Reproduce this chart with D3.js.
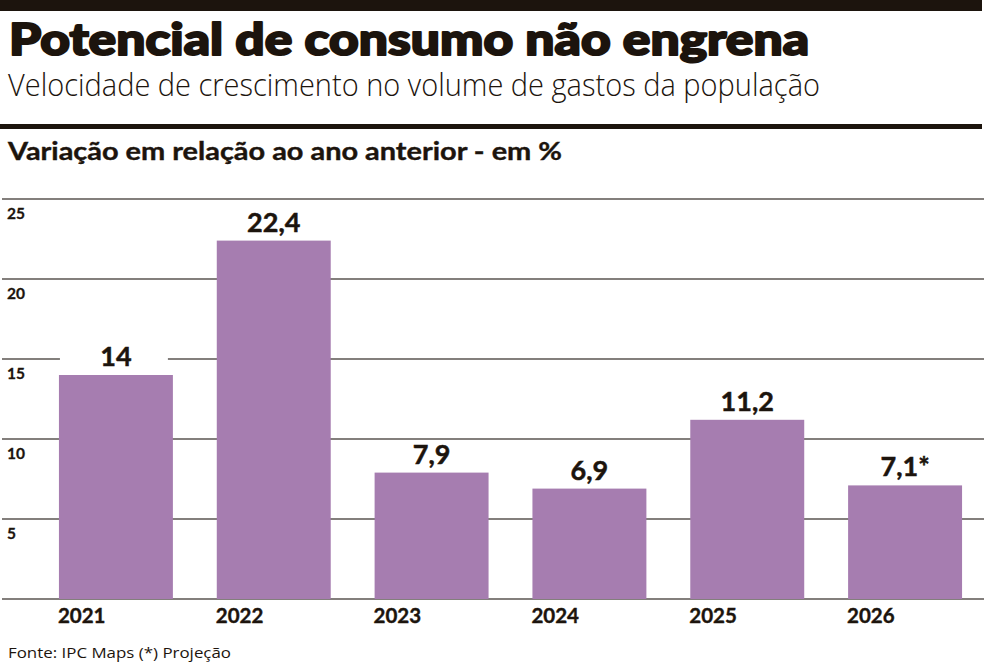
<!DOCTYPE html>
<html>
<head>
<meta charset="utf-8">
<script src="https://cdn.jsdelivr.net/npm/d3@7"></script>
<style>
  body { margin: 0; background: #fff; }
  svg { display: block; }
</style>
</head>
<body>
<div id="vis"></div>
<script>
// data
const years = ['2021', '2022', '2023', '2024', '2025', '2026'];
const values = [14, 22.4, 7.9, 6.9, 11.2, 7.1];
const valueLabels = ['14', '22,4', '7,9', '6,9', '11,2', '7,1*'];
const yTicks = [0, 5, 10, 15, 20, 25];

const W = 984, H = 662;
const ink = '#1c140d';
const barColor = '#a67db0';

const svg = d3.select('#vis')
    .append('svg')
    .attr('width', W)
    .attr('height', H);

// header
svg.append('rect').attr('x', 0).attr('y', 0).attr('width', 982).attr('height', 11).attr('fill', ink);

// heavy title: Lato bold thickened with a stroke
svg.append('text')
    .attr('x', 9).attr('y', 55)
    .attr('textLength', 800).attr('lengthAdjust', 'spacingAndGlyphs')
    .style('font-family', 'Lato, "DejaVu Sans"').style('font-weight', 900).style('font-size', '44px')
    .attr('fill', ink).attr('stroke', ink).attr('stroke-width', 2).attr('stroke-linejoin', 'round')
    .text('Potencial de consumo não engrena');

svg.append('text')
    .attr('x', 8).attr('y', 96)
    .attr('textLength', 812).attr('lengthAdjust', 'spacingAndGlyphs')
    .style('font-family', '"Open Sans"').style('font-weight', 300).style('font-size', '31px')
    .attr('fill', ink)
    .text('Velocidade de crescimento no volume de gastos da população');

svg.append('rect').attr('x', 0).attr('y', 124).attr('width', 982).attr('height', 5).attr('fill', ink);

svg.append('text')
    .attr('x', 8).attr('y', 160)
    .attr('textLength', 554).attr('lengthAdjust', 'spacingAndGlyphs')
    .style('font-family', 'Lato').style('font-weight', 700).style('font-size', '25px')
    .attr('fill', ink).attr('stroke', ink).attr('stroke-width', 0.4)
    .text('Variação em relação ao ano anterior - em %');

// scales
const x = d3.scaleBand()
    .domain(years)
    .range([37, 984])
    .paddingInner(0.278)
    .paddingOuter(0.139);

const y = d3.scaleLinear()
    .domain([0, 25])
    .range([599, 199]);

// gridlines
svg.append('g')
    .selectAll('line')
    .data(yTicks)
    .join('line')
    .attr('x1', 2).attr('x2', 984)
    .attr('y1', d => y(d)).attr('y2', d => y(d))
    .attr('stroke', '#5a5550').attr('stroke-width', 1.5);

// y tick labels, sitting under their line
svg.append('g')
    .selectAll('text')
    .data(yTicks.filter(d => d > 0))
    .join('text')
    .attr('x', 7)
    .attr('y', d => y(d) + 20)
    .style('font-family', 'Lato').style('font-weight', 700).style('font-size', '15.5px')
    .attr('fill', ink).attr('stroke', ink).attr('stroke-width', 0.3)
    .text(d => d);

// bars
svg.append('g')
    .selectAll('rect')
    .data(values)
    .join('rect')
    .attr('x', (d, i) => x(years[i]))
    .attr('y', d => y(d))
    .attr('width', x.bandwidth())
    .attr('height', d => y(0) - y(d))
    .attr('fill', barColor);

// value labels, each on a white box as wide as the bar (cuts the gridline under "14")
const lab = svg.append('g')
    .selectAll('g')
    .data(values)
    .join('g')
    .attr('transform', (d, i) => `translate(${x(years[i]) + x.bandwidth() / 2},${y(d) - 9})`);

lab.append('rect')
    .attr('x', -x.bandwidth() / 2 + 1)
    .attr('y', -20)
    .attr('width', x.bandwidth() - 6)
    .attr('height', 24)
    .attr('fill', '#fff');

lab.append('text')
    .attr('text-anchor', 'middle')
    .style('font-family', 'Lato').style('font-weight', 700).style('font-size', '27px')
    .attr('fill', ink).attr('stroke', ink).attr('stroke-width', 0.5)
    .text((d, i) => valueLabels[i]);

// year labels
svg.append('g')
    .selectAll('text')
    .data(years)
    .join('text')
    .attr('x', d => x(d) - 1)
    .attr('y', 623)
    .style('font-family', 'Lato').style('font-weight', 700).style('font-size', '20.5px')
    .attr('fill', ink).attr('stroke', ink).attr('stroke-width', 0.4)
    .text(d => d);

// source
svg.append('text')
    .attr('x', 8).attr('y', 658)
    .attr('textLength', 223).attr('lengthAdjust', 'spacingAndGlyphs')
    .style('font-family', '"Open Sans"').style('font-size', '15px')
    .attr('fill', ink)
    .text('Fonte: IPC Maps (*) Projeção');
</script>
</body>
</html>
